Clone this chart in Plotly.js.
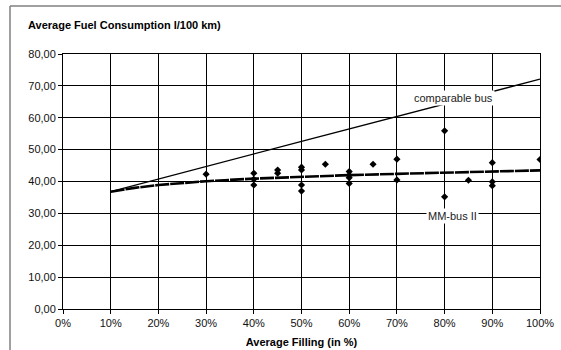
<!DOCTYPE html>
<html>
<head>
<meta charset="utf-8">
<script src="https://cdn.plot.ly/plotly-3.0.1.min.js"></script>
<style>html,body{margin:0;padding:0;background:#fff;}#chart{width:561px;height:350px;}</style>
</head>
<body>
<div id="chart"></div>
<script>
// Measured points: average filling (%) and fuel consumption (l/100 km)
var measFilling = [30, 40, 40, 40, 45, 45, 50, 50, 50, 50, 55, 60, 60, 60, 60, 65, 70, 70, 80, 80, 85, 90, 90, 90, 100];
var measFuel    = [42.3, 42.6, 40.7, 38.9, 43.6, 42.6, 44.5, 43.6, 38.9, 37.0, 45.4, 43.1, 42.0, 41.2, 39.4, 45.4, 47.0, 40.5, 55.9, 35.2, 40.4, 45.9, 39.9, 38.7, 46.9];

// MM-bus II trend line
var trendFilling = [10, 15, 20, 25, 30, 40, 50, 60, 70, 80, 90, 100];
var trendFuel    = [36.8, 38.0, 38.9, 39.6, 40.1, 40.9, 41.5, 42.0, 42.4, 42.8, 43.2, 43.5];

// Comparable bus line
var compFilling = [10, 50, 100];
var compFuel    = [36.8, 52.6, 72.1];

// Ticks
var xTickVals = [0, 10, 20, 30, 40, 50, 60, 70, 80, 90, 100];
var xTickText = ['0%', '10%', '20%', '30%', '40%', '50%', '60%', '70%', '80%', '90%', '100%'];
var yTickVals = [0, 10, 20, 30, 40, 50, 60, 70, 80];
var yTickText = ['0,00', '10,00', '20,00', '30,00', '40,00', '50,00', '60,00', '70,00', '80,00'];

var font = 'Liberation Sans, Arial, sans-serif';
var FS = 11;

var traces = [
  {x: compFilling, y: compFuel, mode: 'lines', type: 'scatter',
   line: {color: '#000', width: 1.3}, hoverinfo: 'skip'},
  {x: trendFilling, y: trendFuel, mode: 'lines', type: 'scatter',
   line: {color: '#000', width: 2.6, dash: '14px,1px'}, hoverinfo: 'skip'},
  {x: measFilling, y: measFuel, mode: 'markers', type: 'scatter',
   marker: {symbol: 'diamond', size: 5.5, color: '#000'}}
];

var W = 561, H = 350, L = 63, R = 21, T = 54, B = 41;
var pw = W - L - R, ph = H - T - B;
function px(x){ return (x - L) / pw; }
function py(y){ return (H - B - y) / ph; }

var layout = {
  width: W, height: H,
  margin: {l: L, r: R, t: T, b: B, pad: 0},
  paper_bgcolor: '#fff', plot_bgcolor: '#fff',
  showlegend: false,
  font: {family: font, size: FS, color: '#000'},
  xaxis: {
    range: [0, 100], tickvals: xTickVals, ticktext: xTickText,
    showgrid: true, gridcolor: '#000', gridwidth: 1,
    showline: true, linecolor: '#000', linewidth: 1, mirror: true,
    ticks: 'outside', ticklen: 4, tickcolor: '#000',
    zeroline: false, fixedrange: true,
    tickfont: {family: font, size: FS, color: '#111'},
    title: {text: '<b>Average Filling (in %)</b>', font: {family: font, size: FS, color: '#000'}, standoff: 10}
  },
  yaxis: {
    range: [0, 80], tickvals: yTickVals, ticktext: yTickText,
    showgrid: true, gridcolor: '#000', gridwidth: 1,
    showline: true, linecolor: '#000', linewidth: 1, mirror: true,
    ticks: 'outside', ticklen: 4, tickcolor: '#000',
    zeroline: false, fixedrange: true,
    tickfont: {family: font, size: FS, color: '#111'}
  },
  annotations: [
    {xref: 'paper', yref: 'paper', x: px(26), y: py(25), xanchor: 'left', yanchor: 'middle',
     text: '<b>Average Fuel Consumption l/100 km)</b>', showarrow: false,
     font: {family: font, size: FS, color: '#000'}},
    {xref: 'paper', yref: 'paper', x: px(453), y: py(98), xanchor: 'center', yanchor: 'middle',
     text: 'comparable bus', showarrow: false, bgcolor: '#fff', borderpad: 1,
     font: {family: font, size: FS, color: '#222'}},
    {xref: 'paper', yref: 'paper', x: px(452), y: py(216), xanchor: 'center', yanchor: 'middle',
     text: 'MM-bus II', showarrow: false, bgcolor: '#fff', borderpad: 1,
     font: {family: font, size: FS, color: '#222'}}
  ],
  shapes: [
    {type: 'line', xref: 'paper', yref: 'paper', x0: px(10), y0: py(6), x1: px(570), y1: py(6),
     line: {color: '#808080', width: 1.5}},
    {type: 'line', xref: 'paper', yref: 'paper', x0: px(10), y0: py(6), x1: px(10), y1: py(360),
     line: {color: '#808080', width: 1.5}}
  ]
};

Plotly.newPlot('chart', traces, layout, {displayModeBar: false, staticPlot: true});
</script>
</body>
</html>
